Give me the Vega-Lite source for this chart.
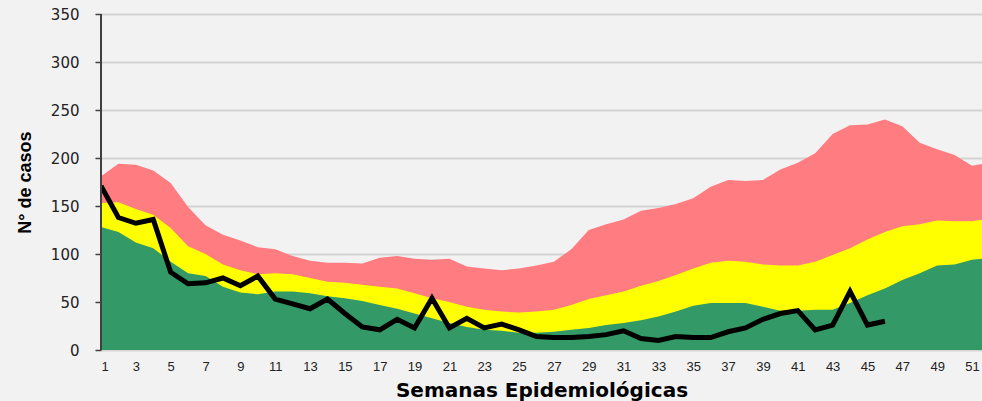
{
  "$schema": "https://vega.github.io/schema/vega-lite/v6.json",
  "width": 881,
  "height": 336,
  "autosize": "none",
  "padding": {"left": 101, "top": 14, "right": 0, "bottom": 51},
  "background": "#f2f2f2",
  "config": {
    "view": {"stroke": null},
    "axisY": {
      "grid": true, "gridColor": "#d3d3d3", "gridWidth": 2,
      "domain": false, "ticks": true, "tickColor": "#404040", "tickSize": 6, "tickWidth": 1.5,
      "labelFont": "DejaVu Sans", "labelFontSize": 15, "labelColor": "#222222", "labelPadding": 16,
      "titleFont": "Liberation Sans", "titleFontSize": 18, "titleFontWeight": "bold", "titleColor": "#000000", "titlePadding": 16
    },
    "axisX": {
      "grid": false, "domain": false, "ticks": false,
      "labelFont": "Liberation Sans", "labelFontSize": 13, "labelColor": "#222222", "labelPadding": 10,
      "titleFont": "DejaVu Sans", "titleFontSize": 20, "titleFontWeight": "bold", "titleColor": "#000000", "titlePadding": 7
    }
  },
  "data": {"values": [
    {"semana": 1, "rojo": 181, "amarillo": 153, "verde": 128, "actual": 171},
    {"semana": 2, "rojo": 194, "amarillo": 154, "verde": 123, "actual": 138},
    {"semana": 3, "rojo": 193, "amarillo": 147, "verde": 112, "actual": 132},
    {"semana": 4, "rojo": 187, "amarillo": 141, "verde": 106, "actual": 136},
    {"semana": 5, "rojo": 174, "amarillo": 127, "verde": 92, "actual": 81},
    {"semana": 6, "rojo": 149, "amarillo": 108, "verde": 80, "actual": 69},
    {"semana": 7, "rojo": 130, "amarillo": 100, "verde": 77, "actual": 70},
    {"semana": 8, "rojo": 120, "amarillo": 89, "verde": 66, "actual": 75},
    {"semana": 9, "rojo": 114, "amarillo": 83, "verde": 60, "actual": 67},
    {"semana": 10, "rojo": 107, "amarillo": 79, "verde": 58, "actual": 77},
    {"semana": 11, "rojo": 105, "amarillo": 80, "verde": 61, "actual": 53},
    {"semana": 12, "rojo": 98, "amarillo": 79, "verde": 61, "actual": 48},
    {"semana": 13, "rojo": 93, "amarillo": 75, "verde": 59, "actual": 43},
    {"semana": 14, "rojo": 91, "amarillo": 71, "verde": 56, "actual": 53},
    {"semana": 15, "rojo": 91, "amarillo": 70, "verde": 54, "actual": 38},
    {"semana": 16, "rojo": 90, "amarillo": 68, "verde": 51, "actual": 24},
    {"semana": 17, "rojo": 96, "amarillo": 66, "verde": 47, "actual": 21},
    {"semana": 18, "rojo": 98, "amarillo": 64, "verde": 43, "actual": 32},
    {"semana": 19, "rojo": 95, "amarillo": 59, "verde": 38, "actual": 23},
    {"semana": 20, "rojo": 94, "amarillo": 54, "verde": 33, "actual": 54},
    {"semana": 21, "rojo": 95, "amarillo": 50, "verde": 28, "actual": 23},
    {"semana": 22, "rojo": 87, "amarillo": 45, "verde": 24, "actual": 33},
    {"semana": 23, "rojo": 85, "amarillo": 42, "verde": 21, "actual": 23},
    {"semana": 24, "rojo": 83, "amarillo": 40, "verde": 20, "actual": 27},
    {"semana": 25, "rojo": 85, "amarillo": 39, "verde": 18, "actual": 21},
    {"semana": 26, "rojo": 88, "amarillo": 40, "verde": 18, "actual": 14},
    {"semana": 27, "rojo": 92, "amarillo": 42, "verde": 19, "actual": 13},
    {"semana": 28, "rojo": 105, "amarillo": 47, "verde": 21, "actual": 13},
    {"semana": 29, "rojo": 125, "amarillo": 53, "verde": 23, "actual": 14},
    {"semana": 30, "rojo": 131, "amarillo": 57, "verde": 26, "actual": 16},
    {"semana": 31, "rojo": 136, "amarillo": 61, "verde": 28, "actual": 20},
    {"semana": 32, "rojo": 145, "amarillo": 67, "verde": 31, "actual": 12},
    {"semana": 33, "rojo": 148, "amarillo": 72, "verde": 35, "actual": 10},
    {"semana": 34, "rojo": 152, "amarillo": 78, "verde": 40, "actual": 14},
    {"semana": 35, "rojo": 158, "amarillo": 85, "verde": 46, "actual": 13},
    {"semana": 36, "rojo": 170, "amarillo": 91, "verde": 49, "actual": 13},
    {"semana": 37, "rojo": 177, "amarillo": 93, "verde": 49, "actual": 19},
    {"semana": 38, "rojo": 176, "amarillo": 92, "verde": 49, "actual": 23},
    {"semana": 39, "rojo": 177, "amarillo": 89, "verde": 45, "actual": 32},
    {"semana": 40, "rojo": 188, "amarillo": 88, "verde": 41, "actual": 38},
    {"semana": 41, "rojo": 195, "amarillo": 88, "verde": 41, "actual": 41},
    {"semana": 42, "rojo": 205, "amarillo": 92, "verde": 42, "actual": 21},
    {"semana": 43, "rojo": 225, "amarillo": 99, "verde": 42, "actual": 26},
    {"semana": 44, "rojo": 234, "amarillo": 106, "verde": 49, "actual": 61},
    {"semana": 45, "rojo": 235, "amarillo": 115, "verde": 57, "actual": 26},
    {"semana": 46, "rojo": 240, "amarillo": 123, "verde": 64, "actual": 30},
    {"semana": 47, "rojo": 233, "amarillo": 129, "verde": 73, "actual": null},
    {"semana": 48, "rojo": 216, "amarillo": 131, "verde": 80, "actual": null},
    {"semana": 49, "rojo": 209, "amarillo": 135, "verde": 88, "actual": null},
    {"semana": 50, "rojo": 203, "amarillo": 134, "verde": 89, "actual": null},
    {"semana": 51, "rojo": 192, "amarillo": 134, "verde": 94, "actual": null},
    {"semana": 52, "rojo": 195, "amarillo": 137, "verde": 96, "actual": null}
  ]},
  "encoding": {
    "x": {
      "field": "semana", "type": "quantitative",
      "scale": {"domain": [1, 51.575], "nice": false, "zero": false},
      "axis": {"title": "Semanas Epidemiológicas", "values": [1,3,5,7,9,11,13,15,17,19,21,23,25,27,29,31,33,35,37,39,41,43,45,47,49,51], "format": "d"}
    }
  },
  "layer": [
    {
      "mark": {"type": "area", "color": "#ff7c80", "clip": true, "opacity": 1},
      "encoding": {
        "y": {"field": "rojo", "type": "quantitative", "scale": {"domain": [0, 350], "nice": false},
          "axis": {"title": "N° de casos", "values": [0,50,100,150,200,250,300,350]}}
      }
    },
    {
      "mark": {"type": "area", "color": "#ffff00", "clip": true, "opacity": 1},
      "encoding": {"y": {"field": "amarillo", "type": "quantitative"}}
    },
    {
      "mark": {"type": "area", "color": "#339966", "clip": true, "opacity": 1},
      "encoding": {"y": {"field": "verde", "type": "quantitative"}}
    },
    {
      "transform": [{"filter": "isValid(datum.actual)"}],
      "mark": {"type": "line", "color": "#000000", "strokeWidth": 5, "strokeJoin": "miter", "clip": true},
      "encoding": {"y": {"field": "actual", "type": "quantitative"}}
    },
    {
      "mark": {"type": "rule", "color": "#404040", "strokeWidth": 2},
      "encoding": {"x": {"datum": 1, "type": "quantitative"}}
    },
    {
      "mark": {"type": "rule", "color": "#404040", "strokeWidth": 2},
      "encoding": {"y": {"datum": 0, "type": "quantitative"}}
    }
  ]
}
